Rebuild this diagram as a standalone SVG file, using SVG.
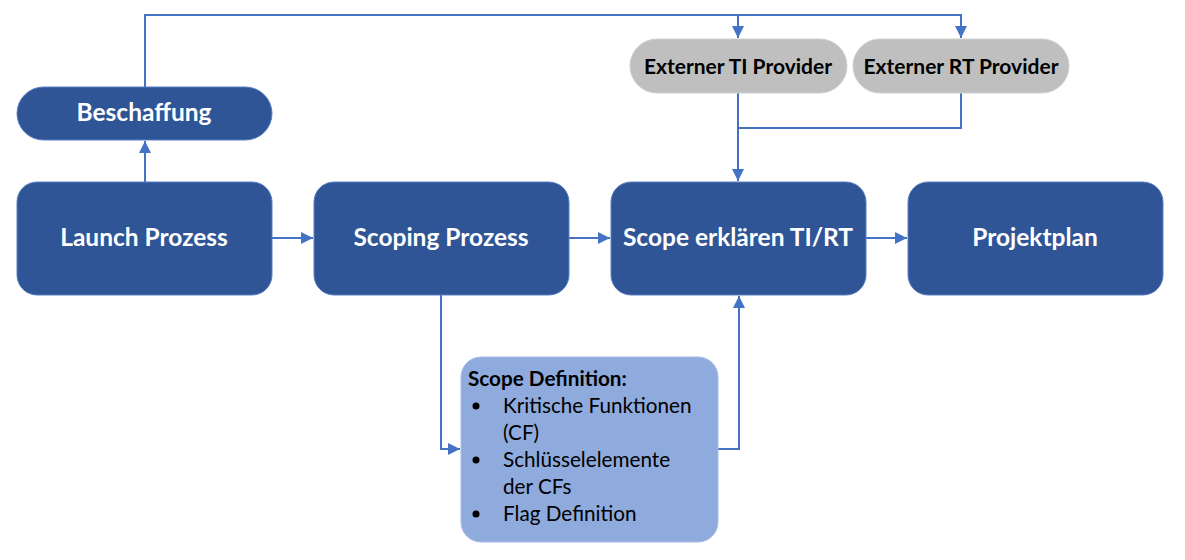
<svg xmlns="http://www.w3.org/2000/svg" width="1185" height="560" viewBox="0 0 1185 560">
<defs>
<marker id="ah" viewBox="0 0 10 10" refX="10" refY="5" markerWidth="12" markerHeight="12" markerUnits="userSpaceOnUse" orient="auto">
<path d="M0,0 L10,5 L0,10 z" fill="#4472c4"/>
</marker>
<style>
.dark{fill:#2f5597;stroke:#5b7fc4;stroke-width:1}
.grey{fill:#bfbfbf;stroke:#d0d0d0;stroke-width:1}
.light{fill:#8faadc;stroke:#a8bde6;stroke-width:1}
.wt{font-family:Lato,"Liberation Sans",sans-serif;font-weight:bold;font-size:24.5px;fill:#ffffff;text-anchor:middle;dominant-baseline:central}
.bt{font-family:Lato,"Liberation Sans",sans-serif;font-weight:bold;font-size:21px;fill:#000000;text-anchor:middle;dominant-baseline:central}
.lt{font-family:Lato,"Liberation Sans",sans-serif;font-size:20.7px;fill:#000000}
.c{fill:none;stroke:#4472c4;stroke-width:2}
</style>
</defs>
<g id="connectors">
<path class="c" d="M145,87 V15 H961 V38" marker-end="url(#ah)"/>
<path class="c" d="M738,15 V38" marker-end="url(#ah)"/>
<path class="c" d="M145,182 V141" marker-end="url(#ah)"/>
<path class="c" d="M961,93 V128 H738"/>
<path class="c" d="M738,93 V181" marker-end="url(#ah)"/>
<path class="c" d="M272,238 H313" marker-end="url(#ah)"/>
<path class="c" d="M569,238 H610" marker-end="url(#ah)"/>
<path class="c" d="M866,238 H907" marker-end="url(#ah)"/>
<path class="c" d="M441,295 V449 H460" marker-end="url(#ah)"/>
<path class="c" d="M718,449 H739 V296" marker-end="url(#ah)"/>
</g>
<g id="beschaffung">
<rect class="dark" x="17" y="87" width="255" height="53" rx="26.5"/>
<text class="wt" x="144" y="111">Beschaffung</text>
</g>
<g id="launch">
<rect class="dark" x="17" y="182" width="255" height="113" rx="20"/>
<text class="wt" x="144" y="236">Launch Prozess</text>
</g>
<g id="scoping">
<rect class="dark" x="314" y="182" width="255" height="113" rx="20"/>
<text class="wt" x="441" y="236">Scoping Prozess</text>
</g>
<g id="scope-erklaeren">
<rect class="dark" x="611" y="182" width="255" height="113" rx="20"/>
<text class="wt" x="738" y="236">Scope erklären TI/RT</text>
</g>
<g id="projektplan">
<rect class="dark" x="908" y="182" width="255" height="113" rx="20"/>
<text class="wt" x="1035" y="236">Projektplan</text>
</g>
<g id="ti-provider">
<rect class="grey" x="630" y="39" width="217" height="54" rx="27"/>
<text class="bt" x="738" y="65">Externer TI Provider</text>
</g>
<g id="rt-provider">
<rect class="grey" x="853" y="39" width="216" height="54" rx="27"/>
<text class="bt" x="961" y="65">Externer RT Provider</text>
</g>
<g id="scope-definition">
<rect class="light" x="461" y="357" width="257" height="185" rx="20"/>
<text class="lt" x="468" y="386" font-weight="bold">Scope Definition:</text>
<circle cx="476" cy="406" r="3.5" fill="#000"/>
<circle cx="476" cy="460" r="3.5" fill="#000"/>
<circle cx="476" cy="514" r="3.5" fill="#000"/>
<text class="lt" x="503" y="413">Kritische Funktionen</text>
<text class="lt" x="503" y="440">(CF)</text>
<text class="lt" x="503" y="467">Schlüsselelemente</text>
<text class="lt" x="503" y="494">der CFs</text>
<text class="lt" x="503" y="521">Flag Definition</text>
</g>
</svg>
